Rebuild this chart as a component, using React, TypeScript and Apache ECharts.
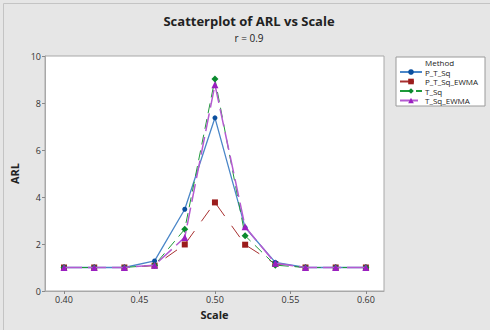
import React, { useEffect, useRef } from "react";
import * as echarts from "echarts";

const scale = [0.40, 0.42, 0.44, 0.46, 0.48, 0.50, 0.52, 0.54, 0.56, 0.58, 0.60];
const pTSq = [1, 1, 1, 1.28, 3.48, 7.37, 2.7, 1.22, 1, 1, 1];
const pTSqEwma = [1, 1, 1, 1.08, 1.98, 3.77, 1.97, 1.15, 1, 1, 1];
const tSq = [1, 1, 1, 1.1, 2.63, 9.02, 2.35, 1.1, 1, 1, 1];
const tSqEwma = [1, 1, 1, 1.1, 2.28, 8.78, 2.73, 1.18, 1, 1, 1];
const xTicks = [0.40, 0.45, 0.50, 0.55, 0.60];
const seriesNames = ["P_T_Sq", "P_T_Sq_EWMA", "T_Sq", "T_Sq_EWMA"];

const FONT = "Open Sans";

export default function App() {
  const ref = useRef<HTMLDivElement>(null);
  useEffect(() => {
    if (!ref.current) return;
    const chart = echarts.init(ref.current, null, { renderer: "svg" });
    const pair = (ys: number[]) => scale.map((x, i) => [x, ys[i]]);
    const option: any = {
      animation: false,
      backgroundColor: "#e6e6e6",
      textStyle: { fontFamily: FONT },
      title: [
        {
          text: "Scatterplot of ARL vs Scale",
          left: 249,
          textAlign: "center",
          top: 12,
          padding: 0,
          textStyle: { fontSize: 13, fontWeight: "bold", color: "#222", fontFamily: FONT, lineHeight: 17 },
        },
        {
          text: "r = 0.9",
          left: 249,
          textAlign: "center",
          top: 32,
          padding: 0,
          textStyle: { fontSize: 10, fontWeight: "normal", color: "#222", fontFamily: FONT, lineHeight: 12 },
        },
      ],
      graphic: [
        { type: "line", shape: { x1: 3.5, y1: 3.5, x2: 490, y2: 3.5 }, style: { stroke: "#c4c4c4", lineWidth: 1 } },
        { type: "line", shape: { x1: 3.5, y1: 3.5, x2: 3.5, y2: 330 }, style: { stroke: "#c4c4c4", lineWidth: 1 } },
        { type: "rect", shape: { x: 396, y: 57, width: 89, height: 49 }, style: { fill: "#ffffff", stroke: "#9a9a9a", lineWidth: 1 }, z: 0 },
        { type: "text", x: 425, y: 58, style: { text: "Method", fontSize: 8, lineHeight: 9, fill: "#222", fontFamily: FONT }, z: 10 },
      ],
      legend: {
        orient: "vertical",
        left: 399,
        top: 67.5,
        itemWidth: 22,
        itemHeight: 7,
        itemGap: 0.5,
        data: seriesNames,
        textStyle: { fontSize: 8, color: "#222", lineHeight: 9, padding: [0, 0, 0, -2], fontFamily: FONT },
        padding: 0,
        z: 10,
      },
      grid: {
        left: 45,
        top: 56,
        width: 339,
        height: 235,
        show: true,
        backgroundColor: "#ffffff",
        borderColor: "#a8a8a8",
        borderWidth: 1,
      },
      xAxis: {
        type: "value",
        min: 0.3874,
        max: 0.612,
        name: "Scale",
        nameLocation: "middle",
        nameGap: 16,
        nameTextStyle: { fontSize: 11, fontWeight: "bold", color: "#222", fontFamily: FONT },
        splitLine: { show: false },
        axisLine: { show: true, lineStyle: { color: "#a8a8a8" } },
        axisTick: { show: true, length: 3, lineStyle: { color: "#888" }, customValues: xTicks },
        axisLabel: {
          fontSize: 9,
          color: "#333",
          margin: 4,
          customValues: xTicks,
          formatter: (v: number) => v.toFixed(2),
        },
      },
      yAxis: {
        type: "value",
        min: 0,
        max: 10,
        interval: 2,
        name: "ARL",
        nameLocation: "middle",
        nameGap: 18,
        nameTextStyle: { fontSize: 11, fontWeight: "bold", color: "#222", fontFamily: FONT },
        splitLine: { show: false },
        axisLine: { show: true, lineStyle: { color: "#a8a8a8" } },
        axisTick: { show: true, length: 3, lineStyle: { color: "#888" } },
        axisLabel: { fontSize: 9, color: "#333", margin: 4 },
      },
      series: [
        {
          name: "P_T_Sq",
          type: "line",
          data: pair(pTSq),
          symbol: "circle",
          symbolSize: 5,
          itemStyle: { color: "#0b4f9e" },
          lineStyle: { color: "#4a86c8", width: 1.3, type: "solid" },
          z: 3,
        },
        {
          name: "P_T_Sq_EWMA",
          type: "line",
          data: pair(pTSqEwma),
          symbol: "rect",
          symbolSize: 6,
          itemStyle: { color: "#9b1c1c" },
          lineStyle: { color: "#a83030", width: 1, type: [14, 12] },
          z: 2,
        },
        {
          name: "T_Sq",
          type: "line",
          data: pair(tSq),
          symbol: "diamond",
          symbolSize: 7,
          itemStyle: { color: "#0a8a2e" },
          lineStyle: { color: "#1e9a3a", width: 1, type: [10, 6] },
          z: 4,
        },
        {
          name: "T_Sq_EWMA",
          type: "line",
          data: pair(tSqEwma),
          symbol: "triangle",
          symbolSize: 7,
          itemStyle: { color: "#9a1fc0" },
          lineStyle: { color: "#b45ad0", width: 1.5, type: [18, 6] },
          z: 5,
        },
      ],
    };
    chart.setOption(option);
    return () => chart.dispose();
  }, []);
  return (
    <div
      ref={ref}
      style={{ position: "fixed", left: 0, top: 0, width: 490, height: 330 }}
    />
  );
}
